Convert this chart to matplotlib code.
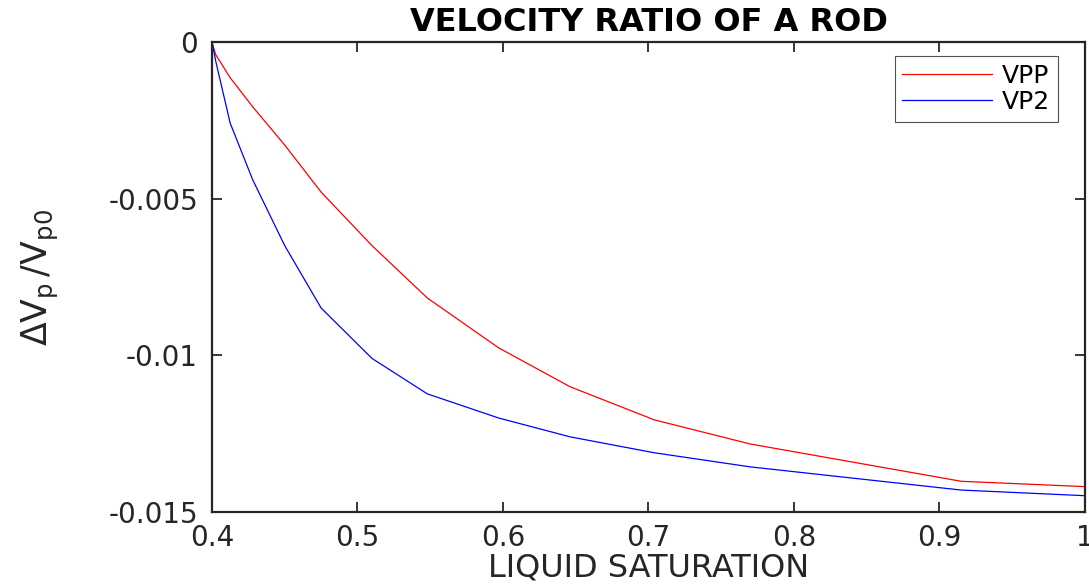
import matplotlib
matplotlib.use("Agg")
import matplotlib.pyplot as plt

saturation = [0.4, 0.4025, 0.4125, 0.428, 0.45, 0.475, 0.51, 0.548, 0.597, 0.646, 0.704, 0.77, 0.915, 1.0]
vpp = [0.0, -0.0004, -0.00114, -0.00207, -0.00329, -0.00479, -0.0065, -0.00817, -0.00976, -0.0110, -0.01206, -0.01283, -0.01402, -0.01419]
vp2 = [0.0, -0.0006, -0.00259, -0.0044, -0.0065, -0.00849, -0.0101, -0.01123, -0.0120, -0.0126, -0.01311, -0.01356, -0.0143, -0.01448]

xticks = [0.4, 0.5, 0.6, 0.7, 0.8, 0.9, 1.0]
xticklabels = ["0.4", "0.5", "0.6", "0.7", "0.8", "0.9", "1"]
yticks = [0, -0.005, -0.01, -0.015]
yticklabels = ["0", "-0.005", "-0.01", "-0.015"]

plt.rcParams['font.family'] = ['DejaVu Sans']
plt.rcParams['mathtext.fontset'] = 'dejavusans'

fig = plt.figure(figsize=(10.89, 5.86), dpi=100)
ax = fig.add_axes([212/1089, 1 - 512/586, (1085-212)/1089, (512-42)/586])

ax.plot(saturation, vpp, color='#ff0000', lw=0.9, label='VPP')
ax.plot(saturation, vp2, color='#0000ff', lw=0.9, label='VP2')

ax.set_xlim(0.4, 1.0)
ax.set_ylim(-0.015, 0)
ax.set_xticks(xticks)
ax.set_xticklabels(xticklabels)
ax.set_yticks(yticks)
ax.set_yticklabels(yticklabels)
ax.tick_params(direction='in', top=True, right=True, length=7.5, width=1.3,
               labelsize=20, colors='#262626')
ax.tick_params(axis='y', pad=10)
ax.tick_params(axis='x', pad=9)
for s in ax.spines.values():
    s.set_linewidth(1.6)
    s.set_color('#262626')

ax.set_title('VELOCITY RATIO OF A ROD', fontsize=23, fontweight='bold', pad=8)
ax.set_xlabel('LIQUID SATURATION', fontsize=23, color='#262626', labelpad=0)
ax.set_ylabel(r'$\Delta\mathrm{V_p\,/V_{p0}}$', fontsize=25, color='#262626', labelpad=34)

leg = ax.legend(loc='upper right', bbox_to_anchor=(0.969, 0.970), fontsize=18,
                frameon=True, fancybox=False, edgecolor='#262626', handlelength=3.6,
                handletextpad=0.4, borderaxespad=0.0, labelspacing=0.1,
                borderpad=0.3)
leg.get_frame().set_linewidth(0.8)

fig.savefig('out.png', dpi=100)
